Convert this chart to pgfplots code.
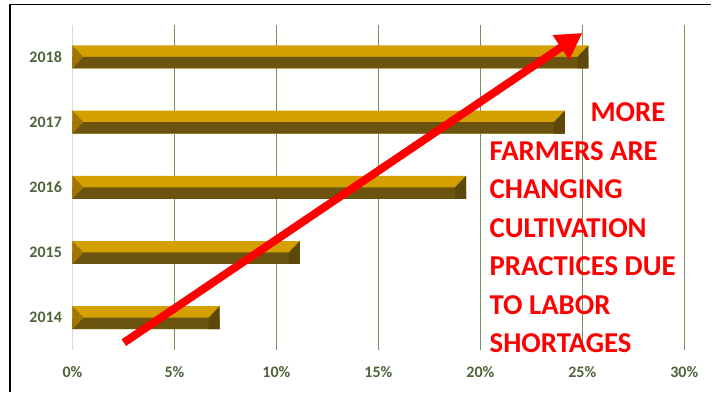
\documentclass[border=0pt]{standalone}
\usepackage{pgfplots}
\pgfplotsset{compat=1.18}
\usepackage{fontspec}
\setmainfont{Carlito}
\usetikzlibrary{arrows.meta}
\definecolor{gold}{RGB}{212,160,0}
\definecolor{darkgold}{RGB}{107,84,16}
\definecolor{bevelleft}{RGB}{160,118,0}
\definecolor{bevelright}{RGB}{92,72,10}
\definecolor{gridgreen}{RGB}{118,146,92}
\definecolor{labelgreen}{RGB}{79,98,56}
\pgfdeclareplotmark{leftbevel}{%
  \pgfpathmoveto{\pgfpoint{0pt}{11.5pt}}%
  \pgfpathlineto{\pgfpoint{11pt}{0pt}}%
  \pgfpathlineto{\pgfpoint{0pt}{-11.5pt}}%
  \pgfpathclose\pgfusepath{fill}}
\pgfdeclareplotmark{rightbevel}{%
  \pgfpathmoveto{\pgfpoint{0pt}{11.5pt}}%
  \pgfpathlineto{\pgfpoint{-11pt}{0pt}}%
  \pgfpathlineto{\pgfpoint{-11pt}{-11.5pt}}%
  \pgfpathlineto{\pgfpoint{0pt}{-11.5pt}}%
  \pgfpathclose\pgfusepath{fill}}
\begin{document}
\begin{tikzpicture}[x=1pt,y=1pt]
\path (0,0) rectangle (712,392);
\draw[black, line width=1.5pt] (10,0) -- (10,387.5) -- (712,387.5);
\begin{axis}[
  at={(72.5pt,42pt)}, anchor=south west,
  scale only axis, width=612.5pt, height=325pt,
  xmin=0, xmax=30, ymin=-0.49, ymax=4.49,
  axis line style={draw=none},
  tick style={draw=none},
  ytick={0,1,2,3,4},
  yticklabels={2014,2015,2016,2017,2018},
  xtick={5,10,15,20,25,30},
  xticklabels={5\%,10\%,15\%,20\%,25\%,30\%},
  extra x ticks={0},
  extra x tick labels={0\%},
  extra x tick style={grid style={black!15, line width=1pt}},
  xmajorgrids,
  grid style={gridgreen, line width=1pt},
  tick label style={font=\fontsize{16}{19}\selectfont\bfseries, text=labelgreen},
  /pgf/number format/assume math mode=true,
  xticklabel shift=13pt,
  yticklabel shift=7pt,
  clip=false,
]
\addplot[xbar, fill=gold, draw=none, bar width=23pt, bar shift=0pt] coordinates {
  (7.22,0) (11.15,1) (19.3,2) (24.15,3) (25.3,4)};
\addplot[xbar, fill=darkgold, draw=none, bar width=11.5pt, bar shift=-5.75pt] coordinates {
  (7.22,0) (11.15,1) (19.3,2) (24.15,3) (25.3,4)};
\addplot[only marks, mark=leftbevel, mark options={fill=bevelleft, draw=none}] coordinates {
  (0,0) (0,1) (0,2) (0,3) (0,4)};
\addplot[only marks, mark=rightbevel, mark options={fill=bevelright, draw=none}] coordinates {
  (7.22,0) (11.15,1) (19.3,2) (24.15,3) (25.3,4)};
\end{axis}
\draw[red, line width=8pt, -{Triangle[length=26pt,width=28pt]}] (124,49) -- (583,359);
\begin{scope}[every node/.style={inner sep=0pt, anchor=base west, text=red, font=\bfseries\fontsize{28.8}{30}\selectfont}]
\node at (591,270) {MORE};
\node at (490,231.5) {FARMERS ARE};
\node at (490,193) {CHANGING};
\node at (490,154.5) {CULTIVATION};
\node at (490,116) {PRACTICES DUE};
\node at (490,77.5) {TO LABOR};
\node at (490,39) {SHORTAGES};
\end{scope}
\end{tikzpicture}
\end{document}
